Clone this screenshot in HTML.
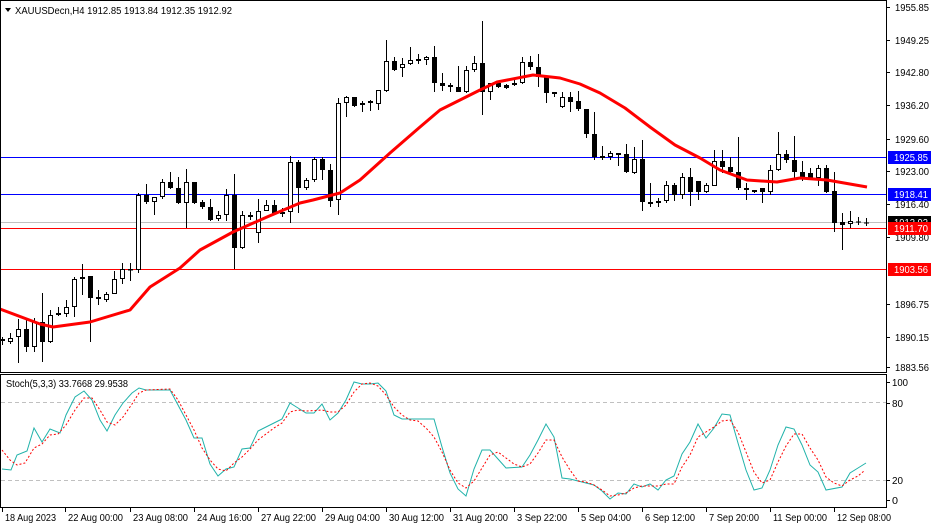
<!DOCTYPE html>
<html><head><meta charset="utf-8"><style>
html,body{margin:0;padding:0;background:#fff;}
svg{display:block;font-family:"Liberation Sans","DejaVu Sans",sans-serif;}
</style></head><body>
<svg id="s" width="933" height="528" viewBox="0 0 933 528" xmlns="http://www.w3.org/2000/svg">
<rect x="0" y="0" width="933" height="528" fill="#fff"/>
<g id="grid"></g>
<g id="candles"></g>
<g id="ax"></g>
</svg>
<script>
var NS="http://www.w3.org/2000/svg";
function el(p,t,a,txt){var e=document.createElementNS(NS,t);for(var k in a)e.setAttribute(k,a[k]);if(txt!=null)e.textContent=txt;p.appendChild(e);return e;}
function tx(x,y,str,len,fill){return el(A,'text',{x:x,y:y,'font-size':'10',fill:fill||'#000',textLength:len,lengthAdjust:'spacingAndGlyphs'},str);}
var s=document.getElementById('s'),G=document.getElementById('grid'),C=document.getElementById('candles'),A=document.getElementById('ax');
el(G,'line',{x1:0,x2:886,y1:222.5,y2:222.5,stroke:'#c0c0c0','stroke-width':1});
el(G,'line',{x1:0,x2:886,y1:157.5,y2:157.5,stroke:'#0000ff','stroke-width':1});
el(G,'line',{x1:0,x2:886,y1:194.5,y2:194.5,stroke:'#0000ff','stroke-width':1});
el(G,'line',{x1:0,x2:886,y1:228.5,y2:228.5,stroke:'#ff0000','stroke-width':1});
el(G,'line',{x1:0,x2:886,y1:269.5,y2:269.5,stroke:'#ff0000','stroke-width':1});
var D=[
[337,339,341,345,0],[333,338,342,344,0],[319,329,337,363,0],[319,329,347,352,1],[318,322,347,352,0],
[293,322,342,362,1],[310,315,342,343,0],[307,313,315,316,0],[300,307,314,317,0],[277,279,307,317,0],
[264,277,279,295,0],[276,276,298,342,1],[290,297,299,305,1],[292,294,300,302,0],[271,279,294,294,0],
[263,269,279,284,0],[263,269,270,281,0],[193,195,270,273,0],[184,195,202,204,1],[197,197,202,215,0],
[179,182,197,199,0],[172,182,188,189,1],[177,188,203,204,1],[169,182,203,228,0],[182,182,203,204,1],
[200,202,207,209,1],[199,207,220,221,1],[211,215,219,221,0],[189,195,215,221,0],[174,195,248,269,1],
[211,215,248,249,0],[212,215,217,220,1],[199,211,233,243,0],[200,205,211,211,0],[200,205,214,215,1],
[208,212,214,217,1],[156,162,212,223,0],[160,162,188,213,1],[178,180,188,190,0],[157,159,180,182,0],
[157,159,170,180,1],[164,170,201,207,1],[98,103,200,215,0],[96,97,103,117,0],[97,97,106,107,1],
[101,103,105,112,0],[100,101,103,111,1],[90,90,104,110,0],[40,61,91,92,0],[57,61,70,71,1],
[58,64,68,77,0],[47,60,64,65,0],[54,59,61,64,1],[56,57,60,65,0],[46,57,83,92,1],
[73,83,86,91,1],[83,85,87,92,1],[66,87,92,92,1],[66,70,92,93,0],[56,63,70,72,0],
[21,63,92,115,1],[83,83,92,100,0],[81,83,87,88,1],[84,85,88,89,1],[80,83,85,86,0],
[57,62,83,84,0],[56,62,67,70,1],[54,67,77,87,1],[77,77,93,103,1],[93,92,94,97,1],
[92,97,107,108,0],[92,97,102,112,1],[91,101,109,111,1],[109,109,134,138,1],[112,134,157,160,1],
[146,156,158,160,1],[151,153,157,160,0],[153,153,155,166,1],[144,154,172,173,1],[147,159,173,174,0],
[140,159,202,211,1],[183,202,204,207,1],[198,201,203,207,0],[181,185,201,203,0],[183,185,195,201,1],
[173,177,195,199,0],[168,177,192,206,1],[181,181,192,200,1],[183,185,192,193,0],[150,161,186,186,0],
[150,161,167,173,1],[157,167,172,173,1],[137,172,188,190,1],[183,188,190,200,1],[190,190,192,193,1],
[188,188,192,203,1],[165,170,192,195,0],[132,154,170,171,0],[150,154,160,163,1],[136,160,172,180,1],
[161,172,178,181,1],[168,173,179,180,1],[165,168,178,186,0],[165,168,192,193,1],[172,191,223,232,1],
[213,222,225,250,1],[211,221,224,228,0],[217,221.5,222.5,225,1],[218,222.5,223.5,226,1]
];
for(var i=0;i<D.length;i++){
 var d=D[i],x=Math.round(2+i*8)+0.5;
 el(C,'line',{x1:x,x2:x,y1:d[0],y2:d[3],stroke:'#000','stroke-width':1});
 var h=Math.max(d[2]-d[1],1);
 if(d[4]) el(C,'rect',{x:x-2.5,y:d[1],width:5,height:h,fill:'#000'});
 else el(C,'rect',{x:x-2,y:d[1]+0.5,width:4,height:Math.max(h-1,0.5),fill:'#fff',stroke:'#000','stroke-width':1});
}
var MA=[[0,309],[40,324],[53,327],[90,322],[130,310],[150,287],[180,268],[200,250],[233,232],[267,217],[300,203],[313,200],[340,193],[360,180],[390,153],[420,127],[440,110],[480,90],[497,82],[533,75],[560,78],[580,84],[600,93],[625,108],[650,127],[675,145],[700,158],[720,170],[747,180],[777,182],[800,178],[827,180],[867,187]];
el(C,'polyline',{points:MA.map(function(p){return p.join(',')}).join(' '),fill:'none',stroke:'#ff0000','stroke-width':3,'stroke-linejoin':'round'});
el(A,'rect',{x:0.5,y:0.5,width:886,height:372,fill:'none',stroke:'#000','stroke-width':1});
el(A,'rect',{x:0.5,y:374.5,width:886,height:133,fill:'none',stroke:'#000','stroke-width':1});
el(A,'line',{x1:1,x2:886,y1:402.5,y2:402.5,stroke:'#c0c0c0','stroke-dasharray':'4,3'});
el(A,'line',{x1:1,x2:886,y1:480.5,y2:480.5,stroke:'#c0c0c0','stroke-dasharray':'4,3'});
var K=[[2,469],[11,470],[17,455],[27,451],[34,428],[42,442],[50,429],[60,433],[66,415],[75,397],[84,391],[92,400],[100,420],[107,431],[115,415],[123,403],[132,393],[139,388],[146,390],[170,390],[178,405],[186,420],[194,438],[202,438],[210,464],[218,476],[226,469],[234,467],[242,449],[250,448],[258,431],[266,427],[274,423],[282,419],[290,403],[298,408],[306,413],[314,413],[322,404],[330,420],[338,413],[346,400],[354,382],[362,384],[370,384],[378,383],[386,391],[394,415],[402,419],[434,419],[442,447],[450,473],[458,489],[466,496],[474,469],[482,450],[490,450],[498,459],[506,468],[522,467],[530,455],[538,440],[546,424],[554,437],[562,478],[570,479],[586,483],[594,485],[602,491],[610,499],[618,493],[626,494],[634,484],[642,487],[650,484],[658,490],[666,480],[674,476],[682,454],[690,442],[698,424],[706,438],[714,428],[722,414],[730,415],[738,443],[746,470],[754,490],[762,488],[770,470],[778,445],[786,427],[794,429],[802,445],[810,465],[818,472],[826,490],[842,487],[850,473],[858,468],[866,463]];
var SG=[[2,450],[10,460],[17,465],[25,463],[34,448],[42,444],[50,435],[58,434],[66,425],[75,410],[84,398],[92,398],[100,410],[107,422],[115,425],[123,417],[132,404],[139,393],[146,390],[170,389],[178,400],[186,415],[194,430],[202,448],[210,460],[218,469],[226,471],[234,463],[242,457],[250,449],[258,440],[266,434],[274,428],[282,423],[290,412],[298,410],[306,411],[322,410],[330,412],[338,412],[346,405],[354,392],[362,384],[370,383],[378,386],[386,395],[394,407],[402,415],[410,420],[418,421],[426,428],[434,437],[442,452],[450,470],[458,483],[466,488],[474,481],[482,468],[490,455],[498,452],[506,458],[514,464],[522,467],[530,464],[538,453],[546,440],[554,440],[562,457],[570,470],[578,481],[586,482],[594,485],[602,490],[610,496],[618,495],[626,493],[634,488],[642,486],[658,486],[666,484],[674,484],[682,467],[690,455],[698,437],[706,432],[714,427],[722,421],[730,420],[738,432],[746,452],[754,472],[762,483],[770,480],[778,462],[786,446],[794,434],[802,434],[810,448],[818,460],[826,477],[834,483],[842,486],[850,480],[858,476],[864,471]];
function pl(a){return a.map(function(p){return p.join(',')}).join(' ');}
el(A,'polyline',{points:pl(K),fill:'none',stroke:'#20b2aa','stroke-width':1});
el(A,'polyline',{points:pl(SG),fill:'none',stroke:'#ff0000','stroke-width':1,'stroke-dasharray':'2,2'});
el(A,'path',{d:'M5 8 L11 8 L8 12 Z',fill:'#000'});
tx(15,14,'XAUUSDecn,H4  1912.85 1913.84 1912.35 1912.92',217);
tx(6,387,'Stoch(5,3,3) 33.7668 29.9538',122);
var PL=[['1955.85',7],['1949.25',40],['1942.80',72],['1936.20',105],['1929.60',139],['1923.00',171],['1916.40',204],['1909.80',237],['1896.75',304],['1890.15',337],['1883.56',367]];
PL.forEach(function(p){el(A,'line',{x1:886,x2:890,y1:p[1]+0.5,y2:p[1]+0.5,stroke:'#000'});tx(895,p[1]+4,p[0],34);});
[['100',382,16],['80',403,11],['20',480,11],['0',500,6]].forEach(function(p){el(A,'line',{x1:886,x2:890,y1:p[1]+0.5,y2:p[1]+0.5,stroke:'#000'});tx(892,p[1]+4,p[0],p[2]);});
[['1925.85',157,'#0000ff'],['1918.41',194,'#0000ff'],['1912.92',222,'#000'],['1911.70',228,'#ff0000'],['1903.56',269,'#ff0000']].forEach(function(p){
 el(A,'rect',{x:888,y:p[1]-6,width:43,height:13,fill:p[2]});
 tx(894,p[1]+4,p[0],34,'#fff');
});
[['18 Aug 2023',2,51],['22 Aug 00:00',65,55],['23 Aug 08:00',130,55],['24 Aug 16:00',194,55],['27 Aug 22:00',258,55],['29 Aug 04:00',322,55],['30 Aug 12:00',386,55],['31 Aug 20:00',450,55],['3 Sep 22:00',514,50],['5 Sep 04:00',578,50],['6 Sep 12:00',642,50],['7 Sep 20:00',706,50],['11 Sep 00:00',770,54],['12 Sep 08:00',834,54]].forEach(function(p){
 el(A,'line',{x1:p[1]+0.5,x2:p[1]+0.5,y1:508,y2:512,stroke:'#000'});
 tx(p[1]+3,521,p[0],p[2]);
});
</script>
</body></html>
